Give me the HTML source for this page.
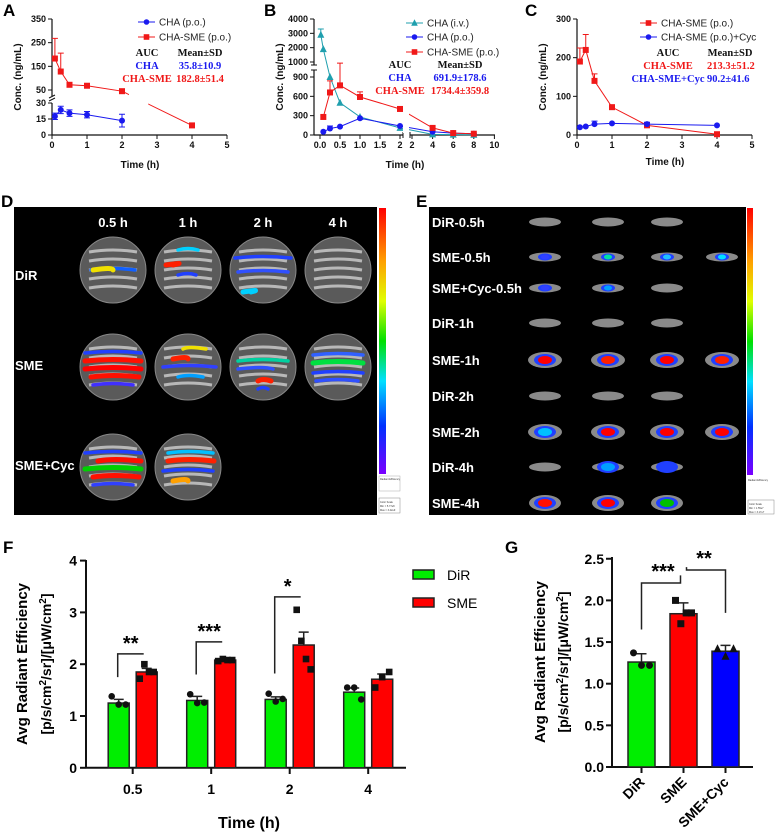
<!DOCTYPE html>
<html><head><meta charset="utf-8"><style>
html,body{margin:0;padding:0;background:#fff;}
svg{display:block;font-family:"Liberation Sans",sans-serif;}
.t{font-weight:bold;font-size:9px;fill:#111;}
.at{font-weight:bold;font-size:10px;fill:#111;}
.lg{font-size:10px;fill:#222;}
.se{font-family:"Liberation Serif",serif;font-weight:bold;font-size:10.5px;}
.pl{font-weight:bold;font-size:17px;fill:#000;}
.im{font-weight:bold;font-size:13px;fill:#fff;}
</style></head><body>
<svg id="fig" width="780" height="840" viewBox="0 0 780 840">
<defs>
<linearGradient id="cb" x1="0" y1="0" x2="0" y2="1">
<stop offset="0" stop-color="#ff0000"/><stop offset="0.2" stop-color="#ffa000"/><stop offset="0.35" stop-color="#e0ff00"/><stop offset="0.5" stop-color="#00e000"/><stop offset="0.65" stop-color="#00e0ff"/><stop offset="0.82" stop-color="#0030ff"/><stop offset="1" stop-color="#7a00ff"/>
</linearGradient>
</defs>
<text class="pl" x="3" y="16">A</text>
<text class="pl" x="264" y="16">B</text>
<text class="pl" x="525" y="16">C</text>
<text class="pl" x="1" y="207">D</text>
<text class="pl" x="416" y="207">E</text>
<text class="pl" x="3" y="553">F</text>
<text class="pl" x="505" y="553">G</text>

<g id="pA"></g>
<g id="pB"></g>
<g id="pC"></g>

<g id="pD">
<rect x="14" y="207" width="363" height="308" fill="#000"/>
<rect x="379" y="208" width="7" height="266" fill="url(#cb)"/>
<rect x="379" y="476" width="21" height="15" fill="#fff" stroke="#aaa" stroke-width="0.5"/>
<text x="380" y="480" font-size="2.5" fill="#333">Radiant Efficiency</text>
<rect x="379" y="498" width="21" height="15" fill="#fff" stroke="#888" stroke-width="0.5"/>
<text x="380" y="503" font-size="2.5" fill="#333">Color Scale</text>
<text x="380" y="507" font-size="2.5" fill="#333">Min = 5.77e8</text>
<text x="380" y="511" font-size="2.5" fill="#333">Max = 3.42e9</text>
<text class="im" x="113" y="227" text-anchor="middle">0.5 h</text>
<text class="im" x="188" y="227" text-anchor="middle">1 h</text>
<text class="im" x="263" y="227" text-anchor="middle">2 h</text>
<text class="im" x="338" y="227" text-anchor="middle">4 h</text>
<text class="im" x="15" y="280">DiR</text>
<text class="im" x="15" y="370">SME</text>
<text class="im" x="15" y="470">SME+Cyc</text>
<g id="plates"></g>
</g>

<g id="pE">
<rect x="429" y="207" width="317" height="308" fill="#000"/>
<rect x="747" y="208" width="6" height="267" fill="url(#cb)"/>
<rect x="747" y="477" width="30" height="12" fill="#fff"/>
<text x="748" y="481" font-size="2.5" fill="#333">Radiant Efficiency</text>
<rect x="748" y="500" width="26" height="14" fill="#fff" stroke="#888" stroke-width="0.5"/>
<text x="749" y="505" font-size="2.5" fill="#333">Color Scale</text>
<text x="749" y="509" font-size="2.5" fill="#333">Min = 1.55e7</text>
<text x="749" y="513" font-size="2.5" fill="#333">Max = 3.17e7</text>
<g id="organs"></g>
</g>

<g id="pF"></g>
<g id="pG"></g>
</svg>
<script>
const NS='http://www.w3.org/2000/svg';
function mk(p,tag,a,txt){const e=document.createElementNS(NS,tag);for(const k in a)e.setAttribute(k,a[k]);if(txt!=null)e.textContent=txt;p.appendChild(e);return e;}
const BLUE='#1a1aef',RED='#f01818',TEAL='#1f9fae';

// ---------- Panel A data ----------
const aTimesCHA=[0.083,0.25,0.5,1,2];
const aCHA=[17.5,23.5,20.5,19,13.5];
const aCHAerr=[3,3.5,3,3,6];
const aTimesSME=[0.083,0.25,0.5,1,2,4];
const aSME=[183,128,72,68,45,9];
const aSMEerr=[85,78,8,6,5,1];
const aUpperTicks=[50,150,250,350];
const aLowerTicks=[0,15,30];
const aXTicks=[0,1,2,3,4,5];

// ---------- Panel B data ----------
const bTimesIV=[0.02,0.083,0.25,0.5,1,2,4,6,8];
const bIV=[2900,1900,900,500,280,110,10,5,3];
const bIVerr=[400,0,0,0,0,0,0,0,0];
const bTimesPO=[0.083,0.25,0.5,1,2,4,6,8];
const bCHA=[50,100,130,260,140,50,30,20];
const bCHAerr=[0,40,0,0,0,0,0,0];
const bSME=[280,660,770,590,404,110,30,20];
const bSMEerr=[0,180,150,80,0,0,0,0];
const bUpperTicks=[1000,2000,3000,4000];
const bLowerTicks=[0,300,600,900];
const bXTicks1=['0.0','0.5','1.0','1.5','2'];
const bXTicks2=[2,4,6,8,10];

// ---------- Panel C data ----------
const cTimes=[0.083,0.25,0.5,1,2,4];
const cSME=[190,220,140,72,25,2];
const cSMEerr=[35,40,18,0,0,0];
const cCyc=[20,22,28,30,28,25];
const cCycerr=[0,0,8,0,5,0];
const cYTicks=[0,100,200,300];
const cXTicks=[0,1,2,3,4,5];

// ---------- Panel F data ----------
const fCategories=['0.5','1','2','4'];
const fDiR=[1.25,1.3,1.32,1.46];
const fDiRerr=[0.07,0.08,0.05,0.08];
const fSME=[1.85,2.08,2.37,1.71];
const fSMEerr=[0.07,0.03,0.25,0.1];
const fDiRpts=[[1.38,1.22,1.22],[1.42,1.25,1.26],[1.43,1.28,1.33],[1.55,1.55,1.32]];
const fSMEpts=[[1.72,2.0,1.85,1.85],[2.06,2.1,2.08,2.08],[3.05,2.45,2.1,1.9],[1.55,1.75,1.85]];
const fYTicks=[0,1,2,3,4];
const fSig=['**','***','*',''];

// ---------- Panel G data ----------
const gCategories=['DiR','SME','SME+Cyc'];
const gValues=[1.26,1.84,1.39];
const gErr=[0.1,0.13,0.07];
const gPts=[[1.37,1.22,1.22],[2.0,1.72,1.85,1.85],[1.42,1.33,1.42]];
const gYTicks=[0,0.5,1.0,1.5,2.0,2.5];

function marker(g,shape,x,y,col,s){
  let e;
  if(shape==='sq') e=mk(g,'rect',{x:x-s,y:y-s,width:2*s,height:2*s,fill:col});
  else if(shape==='ci') e=mk(g,'circle',{cx:x,cy:y,r:s,fill:col});
  else e=mk(g,'polygon',{points:`${x},${y-s-1} ${x-s-0.5},${y+s} ${x+s+0.5},${y+s}`,fill:col});
  return e;
}
function errbar(g,x,y1,y2,col,w){
  const e=mk(g,'path',{d:`M${x},${y1}V${y2}M${x-w},${y2}H${x+w}`,stroke:col,'stroke-width':1,fill:'none'});
  return e;
}
function series(g,xs,ys,errs,xf,yf,col,shape,name,both){
  let d='';xs.forEach((t,i)=>{d+=(i?'L':'M')+xf(t)+','+yf(ys[i]);});
  const ln=mk(g,'path',{d:d,stroke:col,'stroke-width':1,fill:'none'});
  
  
  xs.forEach((t,i)=>{
    if(errs[i]>0){
      const eb=errbar(g,xf(t),yf(ys[i]),yf(ys[i]+errs[i]),col,3);
      
      
      if(both){const e2=errbar(g,xf(t),yf(ys[i]),yf(Math.max(0,ys[i]-errs[i])),col,3);
        
        }
    }
    const m=marker(g,shape,xf(t),yf(ys[i]),col,3);
    
    
  });
  return ln;
}
function legendLine(g,x,y,col,shape,label,name){
  const l=mk(g,'path',{d:`M${x},${y}H${x+17}`,stroke:col,'stroke-width':1});
  
  
  const m=marker(g,shape,x+8.5,y,col,2.8);
  
  
  const t=mk(g,'text',{x:x+21,y:y+3.5,class:'lg'},label);
  
  
}
function txt(g,x,y,s,cls,anchor,fill){const a={x:x,y:y,class:cls};if(anchor)a['text-anchor']=anchor;if(fill)a.fill=fill;return mk(g,'text',a,s);}

// ===== Panel A =====
(function(){
  const g=document.getElementById('pA');
  const xf=t=>52+t*35;
  const yf=v=>v<=30?135-v*(32/30):90-(v-50)*(71/300);
  const ax=mk(g,'path',{d:'M52,135H227M52,135V103M52,96V19',stroke:'#111','stroke-width':1.2,fill:'none'});
  
  
  mk(g,'path',{d:'M49,101L55,98M49,98L55,95',stroke:'#111','stroke-width':1});
  aLowerTicks.concat(aUpperTicks).forEach(v=>{
    mk(g,'path',{d:`M48,${yf(v)}H52`,stroke:'#111','stroke-width':1});
    const t=txt(g,46,yf(v)+3,String(v),'t','end');
    
    
  });
  aXTicks.forEach(v=>{
    mk(g,'path',{d:`M${xf(v)},135V139`,stroke:'#111','stroke-width':1});
    const t=txt(g,xf(v),148,String(v),'t','middle');
    
    
  });
  const xt=txt(g,140,168,'Time (h)','at','middle');
  
  
  const yt=mk(g,'text',{x:0,y:0,class:'at','text-anchor':'middle',transform:'translate(21,77) rotate(-90)'},'Conc. (ng/mL)');
  
  
  series(g,aTimesCHA,aCHA,aCHAerr,xf,yf,BLUE,'ci','a-cha',true);
  series(g,aTimesSME,aSME,aSMEerr,xf,yf,RED,'sq','a-cha-sme',false);
  mk(g,'rect',{x:xf(2.2),y:90,width:xf(2.75)-xf(2.2),height:22,fill:'#fff'});
  legendLine(g,138,22,BLUE,'ci','CHA (p.o.)','a-cha');
  legendLine(g,138,37,RED,'sq','CHA-SME (p.o.)','a-cha-sme');
  txt(g,147,56,'AUC','se','middle','#111');
  txt(g,200,56,'Mean±SD','se','middle','#111');
  txt(g,147,69,'CHA','se','middle',BLUE);
  txt(g,200,69,'35.8±10.9','se','middle',BLUE);
  txt(g,147,82,'CHA-SME','se','middle',RED);
  txt(g,200,82,'182.8±51.4','se','middle',RED);
})();

// ===== Panel B =====
(function(){
  const g=document.getElementById('pB');
  const xf=t=>t<=2?320+t*40:412+(t-2)*10.3;
  const yf=v=>v<=900?135-v*(58/900):62-(v-1000)*(43/3000);
  const ax=mk(g,'path',{d:'M314,135H403M410,135H495M314,135V70M314,65V19',stroke:'#111','stroke-width':1.2,fill:'none'});
  
  
  mk(g,'path',{d:'M311,70H317M311,65H317M403,132V138M410,132V138',stroke:'#111','stroke-width':1});
  bLowerTicks.concat(bUpperTicks).forEach(v=>{
    mk(g,'path',{d:`M310,${yf(v)}H314`,stroke:'#111','stroke-width':1});
    const t=txt(g,308,yf(v)+3,String(v),'t','end');
    
    
  });
  bXTicks1.forEach(s=>{
    const v=parseFloat(s);
    mk(g,'path',{d:`M${xf(v)},135V139`,stroke:'#111','stroke-width':1});
    const t=txt(g,xf(v),148,s,'t','middle');
    
    
  });
  bXTicks2.forEach(v=>{
    const x=v===2?412:xf(v);
    mk(g,'path',{d:`M${x},135V139`,stroke:'#111','stroke-width':1});
    const t=txt(g,x,148,String(v),'t','middle');
    
    
  });
  const xt=txt(g,405,168,'Time (h)','at','middle');
  
  
  const yt=mk(g,'text',{x:0,y:0,class:'at','text-anchor':'middle',transform:'translate(283,77) rotate(-90)'},'Conc. (ng/mL)');
  
  
  series(g,bTimesIV,bIV,bIVerr,xf,yf,TEAL,'tr','b-cha-iv',false);
  series(g,bTimesPO,bCHA,bCHAerr,xf,yf,BLUE,'ci','b-cha-po',false);
  series(g,bTimesPO,bSME,bSMEerr,xf,yf,RED,'sq','b-cha-sme',false);
  mk(g,'rect',{x:403,y:95,width:6,height:38,fill:'#fff'});
  legendLine(g,406,23,TEAL,'tr','CHA (i.v.)','b-cha-iv');
  legendLine(g,406,37,BLUE,'ci','CHA (p.o.)','b-cha-po');
  legendLine(g,406,52,RED,'sq','CHA-SME (p.o.)','b-cha-sme');
  txt(g,400,68,'AUC','se','middle','#111');
  txt(g,460,68,'Mean±SD','se','middle','#111');
  txt(g,400,81,'CHA','se','middle',BLUE);
  txt(g,460,81,'691.9±178.6','se','middle',BLUE);
  txt(g,400,94,'CHA-SME','se','middle',RED);
  txt(g,460,94,'1734.4±359.8','se','middle',RED);
})();

// ===== Panel C =====
(function(){
  const g=document.getElementById('pC');
  const xf=t=>577+t*35;
  const yf=v=>135-v*(116/300);
  const ax=mk(g,'path',{d:'M577,135H752M577,135V19',stroke:'#111','stroke-width':1.2,fill:'none'});
  
  
  cYTicks.forEach(v=>{
    mk(g,'path',{d:`M573,${yf(v)}H577`,stroke:'#111','stroke-width':1});
    const t=txt(g,571,yf(v)+3,String(v),'t','end');
    
    
  });
  cXTicks.forEach(v=>{
    mk(g,'path',{d:`M${xf(v)},135V139`,stroke:'#111','stroke-width':1});
    const t=txt(g,xf(v),148,String(v),'t','middle');
    
    
  });
  const xt=txt(g,665,165,'Time (h)','at','middle');
  
  
  const yt=mk(g,'text',{x:0,y:0,class:'at','text-anchor':'middle',transform:'translate(546,77) rotate(-90)'},'Conc. (ng/mL)');
  
  
  series(g,cTimes,cSME,cSMEerr,xf,yf,RED,'sq','c-cha-sme',false);
  series(g,cTimes,cCyc,cCycerr,xf,yf,BLUE,'ci','c-cha-sme-cyc',false);
  legendLine(g,640,23,RED,'sq','CHA-SME (p.o.)','c-cha-sme');
  legendLine(g,640,37,BLUE,'ci','CHA-SME (p.o.)+Cyc','c-cha-sme-cyc');
  txt(g,668,56,'AUC','se','middle','#111');
  txt(g,730,56,'Mean±SD','se','middle','#111');
  txt(g,668,69,'CHA-SME','se','middle',RED);
  txt(g,707,69,'213.3±51.2','se','start',RED);
  txt(g,668,82,'CHA-SME+Cyc','se','middle',BLUE);
  txt(g,707,82,'90.2±41.6','se','start',BLUE);
})();

// ===== Panel D plates =====
(function(){
  const g=document.getElementById('plates');
  const cols=[113,188,263,338], rows=[270,367,467];
  const heat=[
    [[[0,0,'#1060ff',-22,22],[0,1,'#f0e000',-20,0]],[[-20,0,'#00d0ff',-10,10],[-5,1,'#ff2000',-22,-15],[5,0,'#2040ff',-10,8]],[[-12,0,'#2040ff',-28,28],[2,0,'#3050ff',-25,25],[22,1,'#00d0ff',-20,-12]],[]],
    [[[-14,0,'#2040ff',-28,28],[-6,1,'#ff1000',-28,28],[2,1,'#ff0000',-28,28],[10,1,'#ff1000',-22,26],[18,0,'#4030ff',-20,20]],[[-18,0,'#f0e000',-5,18],[-8,1,'#ff2000',-15,0],[0,0,'#3040ff',-25,28],[10,0,'#00a0ff',-10,15]],[[-6,0,'#00d0a0',-25,25],[2,0,'#3050ff',-25,10],[14,1,'#ff2000',-5,8],[22,0,'#2040ff',-5,5]],[[-12,0,'#3060ff',-25,25],[-4,1,'#00e040',-25,25],[6,0,'#2040ff',-25,25],[14,0,'#3050ff',-22,20]]],
    [[[-14,0,'#2040ff',-28,28],[-6,1,'#ff1000',-15,28],[2,1,'#00d000',-28,28],[10,1,'#ff1000',-20,26],[18,0,'#3040ff',-20,20]],[[-14,0,'#00c0ff',-20,25],[-6,1,'#ff2000',-20,26],[4,0,'#2040ff',-25,25],[14,1,'#ffa000',-15,0]],[],[]]
  ];
  rows.forEach((cy,r)=>cols.forEach((cx,c)=>{
    if(r===2&&c>1)return;
    const p=mk(g,'g',{});
    
    
    mk(p,'circle',{cx:cx,cy:cy,r:33,fill:'#5a5a5a',stroke:'#888','stroke-width':1});
    for(let k=-2;k<=2;k++){
      const y=cy+k*9;
      mk(p,'path',{d:`M${cx-24},${y}Q${cx},${y-4} ${cx+24},${y}`,stroke:'#cfcfcf','stroke-width':3,fill:'none',opacity:0.8});
    }
    heat[r][c].forEach(h=>{
      const y=cy+h[0];
      mk(p,'path',{d:`M${cx+h[3]},${y}Q${cx},${y-3} ${cx+h[4]},${y}`,stroke:h[2],'stroke-width':h[1]?5:3.5,fill:'none','stroke-linecap':'round'});
    });
  }));
})();

// ===== Panel E organs =====
(function(){
  const g=document.getElementById('organs');
  const labels=['DiR-0.5h','SME-0.5h','SME+Cyc-0.5h','DiR-1h','SME-1h','DiR-2h','SME-2h','DiR-4h','SME-4h'];
  const ys=[222,257,288,323,360,396,432,467,503];
  const counts=[3,4,3,3,4,3,4,3,3];
  const cx=[545,608,667,722];
  const hot=[[],['#3040ff','#00e0a0','#20c0ff','#00e0ff'],['#3040ff','#00a0ff',''],[],['#ff0000','#ff2000','#ff0000','#ff2000'],[],['#00c0ff','#ff0000','#ff0000','#ff0000'],['','#00a0ff','#2040ff'],['#ff1000','#ff0000','#00c000']];
  labels.forEach((l,r)=>{
    const t=txt(g,432,ys[r]+5,l,'im');
    
    
    for(let c=0;c<counts[r];c++){
      const o=mk(g,'ellipse',{cx:cx[c],cy:ys[r],rx:r===4||r===6?17:16,ry:r===4||r===6||r===8?8:4.5,fill:'#8a8a8a'});
      
      
      const hc=hot[r][c];
      if(hc){
        mk(g,'ellipse',{cx:cx[c],cy:ys[r],rx:r===1||r===2?7:11,ry:r===1||r===2?3.5:6,fill:'#2040ff'});
        mk(g,'ellipse',{cx:cx[c],cy:ys[r],rx:r===1||r===2?4:7,ry:r===1||r===2?2.5:4,fill:hc});
      }
    }
  });
})();

// ===== Panel F =====
(function(){
  const g=document.getElementById('pF');
  const yf=v=>767.8-v*51.8;
  const gx=i=>132.7+i*78.5;
  const bw=21;
  const ax=mk(g,'path',{d:'M86,767.8H406M86,767.8V560',stroke:'#111','stroke-width':2,fill:'none'});
  
  
  fYTicks.forEach(v=>{
    mk(g,'path',{d:`M80,${yf(v)}H86`,stroke:'#111','stroke-width':2});
    const t=txt(g,77,yf(v)+5,String(v),'','end');
    t.setAttribute('style','font-weight:bold;font-size:14px');
    
    
  });
  fCategories.forEach((c,i)=>{
    const x=gx(i);
    mk(g,'path',{d:`M${x},767.8V774`,stroke:'#111','stroke-width':2});
    const t=txt(g,x,794,c,'','middle');
    t.setAttribute('style','font-weight:bold;font-size:14px');
    
    
    [[fDiR,fDiRerr,fDiRpts,'#00ee00',-14,'dir','ci'],[fSME,fSMEerr,fSMEpts,'#ff0000',14,'sme','sq']].forEach(s=>{
      const cx=x+s[4], v=s[0][i];
      const b=mk(g,'rect',{x:cx-bw/2,y:yf(v),width:bw,height:767.8-yf(v),fill:s[3],stroke:'#222','stroke-width':1.5});
      
      
      const e=errbar(g,cx,yf(v),yf(v+s[1][i]),'#222',5);
      e.setAttribute('stroke-width','1.5');
      
      
      const pts=s[2][i];
      pts.forEach((p,k)=>{
        const off=(k-(pts.length-1)/2)*(14/Math.max(1,pts.length-1));
        const m=marker(g,s[6],cx+off*(pts.length>1?1:0),yf(p),'#111',3.3);
        
        
      });
    });
    if(fSig[i]){
      const topY=i===2?yf(3.3):yf(fSME[i]+0.35);
      const br=mk(g,'path',{d:`M${x-15},${yf(fDiR[i]+0.5)}V${topY}H${x+11}`,stroke:'#222','stroke-width':1.5,fill:'none'});
      
      
      const st=txt(g,x-2,topY-4,fSig[i],'','middle');
      st.setAttribute('style','font-weight:bold;font-size:20px');
      
      
    }
  });
  const xt=txt(g,249,828,'Time (h)','','middle');
  xt.setAttribute('style','font-weight:bold;font-size:16px');
  
  
  const y1=mk(g,'text',{x:0,y:0,'text-anchor':'middle',transform:'translate(27,664) rotate(-90)',style:'font-weight:bold;font-size:15px'},'Avg Radiant Efficiency');
  
  
  const y2=mk(g,'text',{x:0,y:0,'text-anchor':'middle',transform:'translate(51,664) rotate(-90)',style:'font-weight:bold;font-size:14px'});
  y2.innerHTML='[p/s/cm<tspan dy="-5" font-size="10">2</tspan><tspan dy="5">/sr]/[μW/cm</tspan><tspan dy="-5" font-size="10">2</tspan><tspan dy="5">]</tspan>';
  
  
  const l1=mk(g,'rect',{x:413,y:570,width:21,height:9,fill:'#00ee00',stroke:'#222','stroke-width':1.5});
  
  
  const l2=mk(g,'rect',{x:413,y:598,width:21,height:9,fill:'#ff0000',stroke:'#222','stroke-width':1.5});
  
  
  const t1=txt(g,447,580,'DiR','');t1.setAttribute('style','font-size:14px');
  
  
  const t2=txt(g,447,608,'SME','');t2.setAttribute('style','font-size:14px');
  
  
})();

// ===== Panel G =====
(function(){
  const g=document.getElementById('pG');
  const yf=v=>767-v*83.3;
  const gx=i=>641.5+i*42;
  const bw=27;
  const colors=['#00ee00','#ff0000','#0000ff'];
  const shapes=['ci','sq','tr'];
  const ax=mk(g,'path',{d:'M612,767H753M612,767V557',stroke:'#111','stroke-width':2,fill:'none'});
  
  
  gYTicks.forEach(v=>{
    mk(g,'path',{d:`M606,${yf(v)}H612`,stroke:'#111','stroke-width':2});
    const t=txt(g,604,yf(v)+5,v.toFixed(1),'','end');
    t.setAttribute('style','font-weight:bold;font-size:14px');
    
    
  });
  gCategories.forEach((c,i)=>{
    const x=gx(i), v=gValues[i];
    mk(g,'path',{d:`M${x},767V773`,stroke:'#111','stroke-width':2});
    const b=mk(g,'rect',{x:x-bw/2,y:yf(v),width:bw,height:767-yf(v),fill:colors[i],stroke:'#222','stroke-width':1.5});
    
    
    const e=errbar(g,x,yf(v),yf(v+gErr[i]),'#222',5);
    e.setAttribute('stroke-width','1.5');
    
    
    const pts=gPts[i];
    pts.forEach((p,k)=>{
      const off=(k-(pts.length-1)/2)*(16/(pts.length-1));
      const m=marker(g,shapes[i],x+off,yf(p),'#111',3.5);
      
      
    });
    const t=mk(g,'text',{x:0,y:0,'text-anchor':'end',transform:`translate(${x+4},${783}) rotate(-45)`,style:'font-weight:bold;font-size:14px'},c);
    
    
  });
  const b1=mk(g,'path',{d:`M${gx(0)},${yf(1.65)}V583H${gx(1)-3}V${yf(2.3)}`,stroke:'#222','stroke-width':1.5,fill:'none'});
  
  
  const b2=mk(g,'path',{d:`M${gx(1)+3},${yf(2.4)}V570H${gx(2)}V${yf(1.85)}`,stroke:'#222','stroke-width':1.5,fill:'none'});
  
  
  mk(g,'rect',{x:646,y:560,width:36,height:12,fill:'#fff'});
  const s1=txt(g,663,578,'***','','middle');s1.setAttribute('style','font-weight:bold;font-size:20px');
  
  
  const s2=txt(g,704,565,'**','','middle');s2.setAttribute('style','font-weight:bold;font-size:20px');
  
  
  const y1=mk(g,'text',{x:0,y:0,'text-anchor':'middle',transform:'translate(545,662) rotate(-90)',style:'font-weight:bold;font-size:15px'},'Avg Radiant Efficiency');
  
  
  const y2=mk(g,'text',{x:0,y:0,'text-anchor':'middle',transform:'translate(568,662) rotate(-90)',style:'font-weight:bold;font-size:14px'});
  y2.innerHTML='[p/s/cm<tspan dy="-5" font-size="10">2</tspan><tspan dy="5">/sr]/[μW/cm</tspan><tspan dy="-5" font-size="10">2</tspan><tspan dy="5">]</tspan>';
  
  
})();
</script>
</body></html>
